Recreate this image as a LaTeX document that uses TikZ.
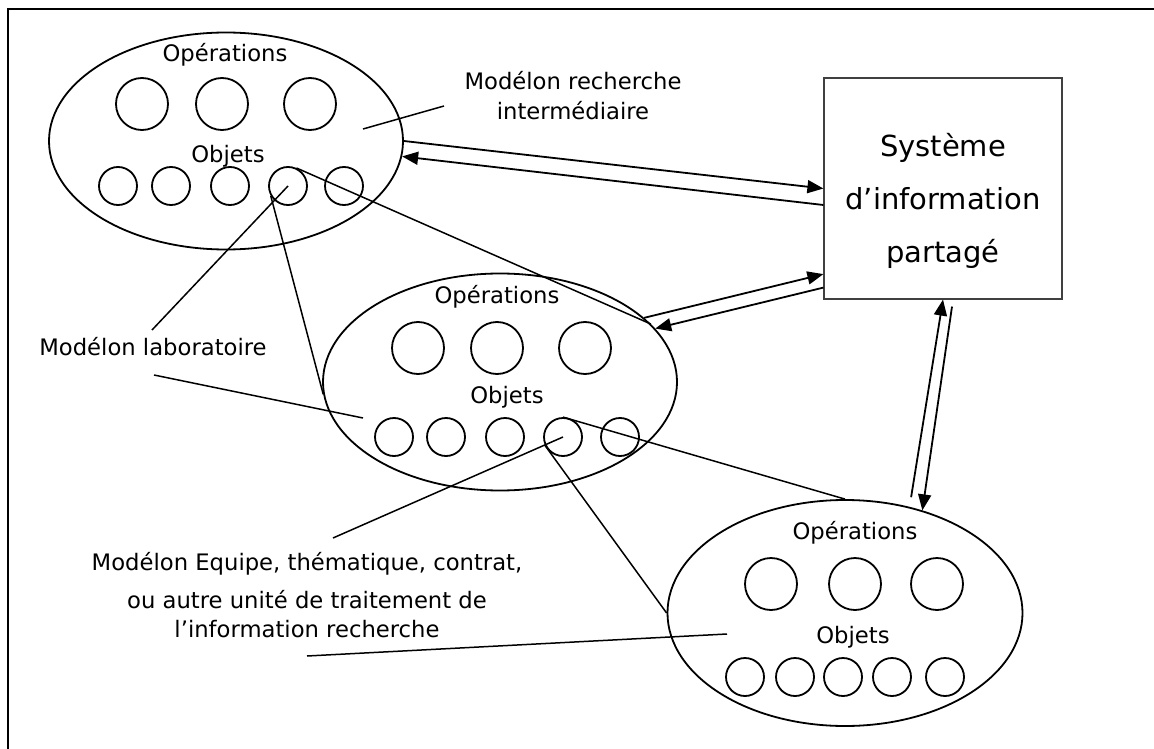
\documentclass[tikz,border=0pt]{standalone}
\usepackage{fontspec}
\setmainfont{DejaVu Sans}
\usetikzlibrary{shapes.geometric,arrows.meta,positioning}

\begin{document}
\begin{tikzpicture}[x=1pt,y=-1pt,line width=1.8pt,
          modelon/.style={draw,ellipse,inner sep=0pt,
                          minimum width=354pt,minimum height=217pt},
          opcircle/.style={draw,circle,inner sep=0pt,minimum size=52pt},
          obcircle/.style={draw,circle,inner sep=0pt,minimum size=38pt},
          lbl/.style={inner sep=0pt,font=\fontsize{22.7}{30}\selectfont},
          link/.style={-{Triangle[length=16pt,width=13pt]}},
          callout/.style={line width=1.5pt}]
        \useasboundingbox (0,0) rectangle (1154,749);
        \draw (1160,9) -- (8,9) -- (8,760);
        \node[modelon] (e1) at (226,141) {};
        \node[modelon] (e2) at (500,382) {};
        \node[modelon,minimum width=355pt,minimum height=226pt] (e3) at (845,613) {};
        \foreach \x [count=\i] in {142,222,310} \node[opcircle] (e1op\i) at (\x,104) {};
        \foreach \x [count=\i] in {118,171,230,288,344} \node[obcircle] (e1ob\i) at (\x,186) {};
        \foreach \x [count=\i] in {418,497,585} \node[opcircle] (e2op\i) at (\x,348) {};
        \foreach \x [count=\i] in {394,446,505,563,620} \node[obcircle] (e2ob\i) at (\x,437) {};
        \foreach \x [count=\i] in {771,855,937} \node[opcircle] (e3op\i) at (\x,584) {};
        \foreach \x [count=\i] in {745,795,843,892,945} \node[obcircle] (e3ob\i) at (\x,677) {};
        \node[lbl,anchor=base] (e1ops) at (225,62) {Opérations};
        \node[lbl,anchor=base] (e1obj) at (228,162) {Objets};
        \node[lbl,anchor=base] (e2ops) at (497,303) {Opérations};
        \node[lbl,anchor=base] (e2obj) at (507,403) {Objets};
        \node[lbl,anchor=base] (e3ops) at (855,539) {Opérations};
        \node[lbl,anchor=base] (e3obj) at (853,643) {Objets};
        \node[draw=black!75,line width=1.2pt,minimum width=238pt,minimum height=221pt] (sys) at (943,188.5) {};
        \node[align=center,inner sep=0pt,font=\fontsize{29}{53}\selectfont] (systxt) at (943,201)
          {Système\\d’information\\partagé};
        \node[lbl,align=center] (recher) at (573,96) {Modélon recherche\\intermédiaire};
        \node[lbl,anchor=base] (labo) at (153,355) {Modélon laboratoire};
        \node[lbl,align=center,font=\fontsize{22.7}{29}\selectfont] (equipe) at (307,595.5)
          {Modélon Equipe, thématique, contrat,\\[9pt]ou autre unité de traitement de\\l’information recherche};
        \coordinate (rechpt) at (444,106);
        \coordinate (rechend) at (363,129);
        \coordinate (labup) at (152,330);
        \coordinate (labdown) at (154,375);
        \coordinate (labend) at (363,418);
        \coordinate (equup) at (333,538);
        \coordinate (equdown) at (307,656);
        \coordinate (equend) at (727,634);
        \draw[link] (e1.east) -- (sys.west);
        \draw[link] ([yshift=-16.5pt]sys.west) -- (e1.-5);
        \draw[link] (e2.24) -- ([yshift=25.5pt]sys.south west);
        \draw[link] ([yshift=12pt]sys.south west) -- (e2.19.5);
        \draw[link] ([yshift=10pt]e3.58) -- (sys.south);
        \draw[link] ([xshift=9pt,yshift=-7pt]sys.south) -- (e3.53);
        \draw[callout] (rechpt) -- (rechend);
        \draw[callout] (labup) -- (e1ob4.center);
        \draw[callout] (labdown) -- (labend);
        \draw[callout] (e1ob4.210) -- (e2.184);
        \draw[callout] (e1ob4.65) -- (e2.21);
        \draw[callout] (e2ob4.north) -- (e3.north);
        \draw[callout] (e2ob4.center) -- (equup);
        \draw[callout] (e2ob4.205) -- (e3.west);
        \draw[callout] (equdown) -- (equend);
      \end{tikzpicture}
\end{document}
